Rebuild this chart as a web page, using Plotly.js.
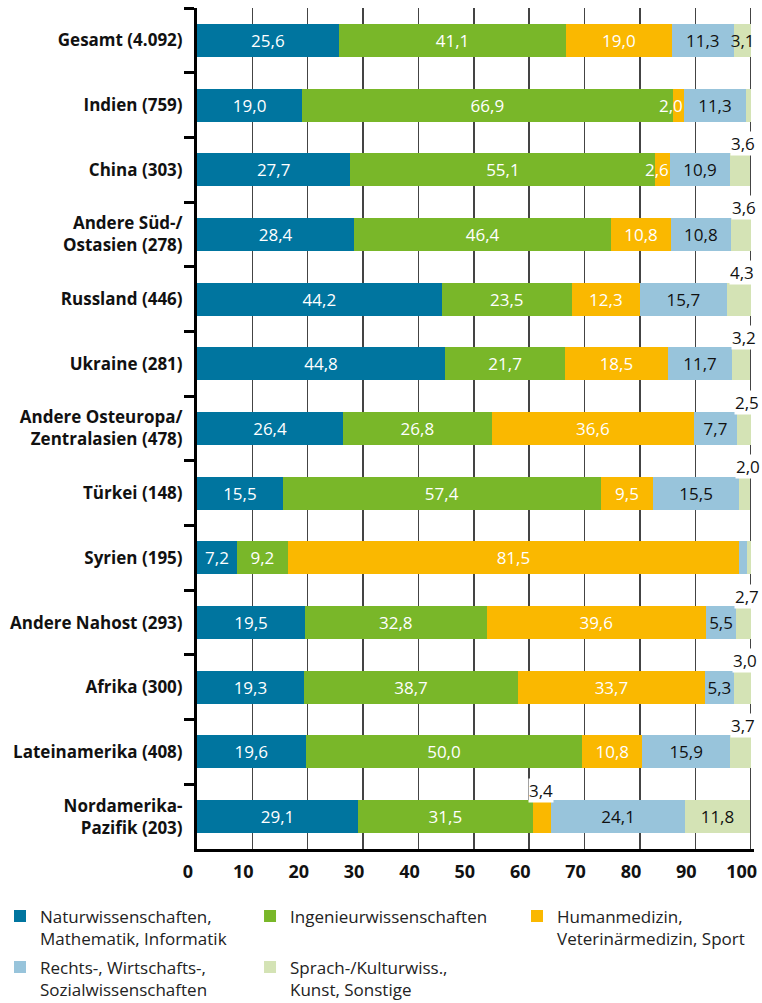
<!DOCTYPE html>
<html>
<head>
<meta charset="utf-8">
<script src="https://cdn.plot.ly/plotly-3.0.1.min.js"></script>
<style>html,body{margin:0;padding:0;background:#fff}#chart{width:762px;height:1003px}</style>
</head>
<body>
<div id="chart"></div>
<script>
// ---- data (percent shares) ----
const categories = [
  'Gesamt (4.092)', 'Indien (759)', 'China (303)', 'Andere Süd-/<br>Ostasien (278)',
  'Russland (446)', 'Ukraine (281)', 'Andere Osteuropa/<br>Zentralasien (478)', 'Türkei (148)',
  'Syrien (195)', 'Andere Nahost (293)', 'Afrika (300)', 'Lateinamerika (408)', 'Nordamerika-<br>Pazifik (203)'
];
const naturwiss = [25.6, 19.0, 27.7, 28.4, 44.2, 44.8, 26.4, 15.5, 7.2, 19.5, 19.3, 19.6, 29.1];
const ingenieur = [41.1, 66.9, 55.1, 46.4, 23.5, 21.7, 26.8, 57.4, 9.2, 32.8, 38.7, 50.0, 31.5];
const medizin   = [19.0, 2.0, 2.6, 10.8, 12.3, 18.5, 36.6, 9.5, 81.5, 39.6, 33.7, 10.8, 3.4];
const rechtWirt = [11.3, 11.3, 10.9, 10.8, 15.7, 11.7, 7.7, 15.5, 1.4, 5.5, 5.3, 15.9, 24.1];
const sprachKult= [3.1, 0.8, 3.6, 3.6, 4.3, 3.2, 2.5, 2.0, 0.7, 2.7, 3.0, 3.7, 11.8];
const seriesNames = [
  'Naturwissenschaften,<br>Mathematik, Informatik',
  'Ingenieurwissenschaften',
  'Humanmedizin,<br>Veterinärmedizin, Sport',
  'Rechts-, Wirtschafts-,<br>Sozialwissenschaften',
  'Sprach-/Kulturwiss.,<br>Kunst, Sonstige'
];
const xTicks = [0, 10, 20, 30, 40, 50, 60, 70, 80, 90, 100];
// label placement (indices of categories)
const medLabelAbove = [12];
const medLabelOverlay = [1, 2];
const rwsLabelHidden = [8];
const sprLabelInside = [0, 12];
const sprLabelHidden = [1, 8];

// ---- styling ----
const colors = ['#00759F', '#79B729', '#FAB800', '#98C4DB', '#D4E3B5'];
const textColors = ['#ffffff', '#ffffff', '#ffffff', '#111111', '#111111'];
const FONT = 'Open Sans, sans-serif';

const allSeries = [naturwiss, ingenieur, medizin, rechtWirt, sprachKult];
const fmt = v => v.toFixed(1).replace('.', ',');

function labelState(s, i) {
  if (s === 2) {
    if (medLabelAbove.includes(i)) return 'above';
    if (medLabelOverlay.includes(i)) return 'overlay';
    return 'in';
  }
  if (s === 3) return rwsLabelHidden.includes(i) ? 'none' : 'in';
  if (s === 4) {
    if (sprLabelHidden.includes(i)) return 'none';
    if (sprLabelInside.includes(i)) return 'in';
    return 'above';
  }
  return 'in';
}

const legendIds = ['legend', 'legend2', 'legend3', 'legend4', 'legend5'];
const traces = allSeries.map((vals, s) => ({
  type: 'bar',
  orientation: 'h',
  name: seriesNames[s],
  y: categories,
  x: vals,
  legend: legendIds[s],
  marker: {color: colors[s], line: {width: 0}},
  text: vals.map((v, i) => labelState(s, i) === 'in' ? fmt(v) : ''),
  textposition: 'inside',
  insidetextanchor: 'middle',
  constraintext: 'none',
  textangle: 0,
  cliponaxis: false,
  textfont: {family: FONT, size: 17, color: textColors[s]},
  hoverinfo: 'x+y+name'
}));

// labels above small segments / overlaid on narrow segments
const annotations = [];
categories.forEach((cat, i) => {
  let start = 0;
  allSeries.forEach((vals, s) => {
    const st = labelState(s, i);
    if (st === 'above') {
      annotations.push({
        x: start + vals[i] / 2, y: cat, xref: 'x', yref: 'y',
        text: fmt(vals[i]), showarrow: false,
        xanchor: 'center', yanchor: 'bottom',
        xshift: s === 4 ? 3 : -1, yshift: 14,
        bgcolor: '#ffffff', borderpad: 0,
        font: {family: FONT, size: 17, color: '#111111'}
      });
    } else if (st === 'overlay') {
      annotations.push({
        x: start + vals[i], y: cat, xref: 'x', yref: 'y',
        text: fmt(vals[i]), showarrow: false,
        xanchor: 'right', yanchor: 'middle',
        xshift: 0, yshift: 0, borderpad: 0,
        font: {family: FONT, size: 17, color: textColors[s]}
      });
    }
    start += vals[i];
  });
});

const legendBase = {
  orientation: 'v', xref: 'paper', yref: 'container', xanchor: 'left', yanchor: 'top',
  bgcolor: 'rgba(0,0,0,0)', borderwidth: 0, valign: 'top',
  font: {family: FONT, size: 17, color: '#222222'}
};
const legendX = [-0.3537, 0.0952, 0.5745, -0.3537, 0.0952];
const legendY = [0.1042, 0.1042, 0.1042, 0.0534, 0.0534];

const layout = {
  width: 762, height: 1003,
  margin: {l: 197, r: 8, t: 8, b: 154, pad: 0},
  barmode: 'stack',
  bargap: 0.49,
  paper_bgcolor: '#ffffff',
  plot_bgcolor: '#ffffff',
  font: {family: FONT, size: 18, color: '#111111'},
  showlegend: true,
  xaxis: {
    range: [0, 100.6],
    tickmode: 'array', tickvals: xTicks, ticktext: xTicks.map(String),
    showgrid: true, gridcolor: '#444444', gridwidth: 1.5,
    zeroline: false,
    showline: true, linecolor: '#000000', linewidth: 3,
    ticks: '', ticklabelstandoff: 4, ticklabelshift: -9,
    tickfont: {family: FONT, size: 18, weight: 700, color: '#111111'},
    fixedrange: true
  },
  yaxis: {
    type: 'category',
    range: [12.5, -0.5],
    tickson: 'boundaries',
    ticks: 'outside', ticklen: 10, tickwidth: 3, tickcolor: '#000000',
    showgrid: false, zeroline: false,
    showline: true, linecolor: '#000000', linewidth: 3,
    ticklabelstandoff: 8,
    tickfont: {family: FONT, size: 17, weight: 700, color: '#111111'},
    fixedrange: true
  },
  annotations: annotations
};
legendIds.forEach((id, k) => {
  layout[id] = Object.assign({}, legendBase, {x: legendX[k], y: legendY[k]});
});

Plotly.newPlot('chart', traces, layout, {displayModeBar: false, staticPlot: true});
</script>
</body>
</html>
